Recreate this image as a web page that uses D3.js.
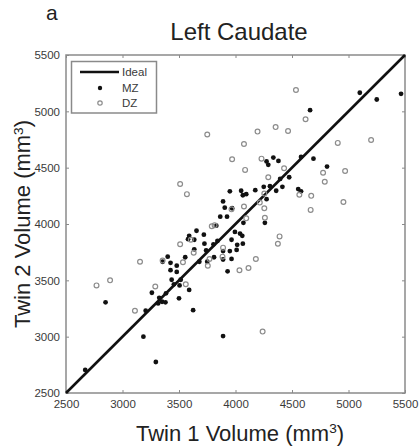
<!DOCTYPE html>
<html>
<head>
<meta charset="utf-8">
<script src="https://cdn.jsdelivr.net/npm/d3@7"></script>
<style>
  html, body { margin: 0; padding: 0; background: #fff; }
  svg { display: block; font-family: "Liberation Sans", Arial, Helvetica, sans-serif; }
</style>
</head>
<body>
<svg id="chart" width="419" height="448"></svg>
<script>
// Left caudate volumes (mm^3) for twin pairs
const mzTwin1 = [5100,5250,5465,4660,4275,4335,4380,4290,4580,4690,4810,4475,4395,4305,4250,4415,4360,4175,
  4050,4065,4095,3950,4555,4580,4275,3970,4070,4260,3995,4040,4060,3965,4015,4065,3965,
  3890,3905,3865,3925,3830,3655,3720,3590,3580,3635,3840,3725,3805,3635,3890,3950,4010,3740,3810,3890,3750,3680,3555,3400,3355,3425,3480,3425,3480,3930,
  3435,3515,3455,3505,3590,3260,3385,3325,3350,3380,3315,3500,2850,3205,3625,3185,3890,3295,2670];
const mzTwin2 = [5165,5105,5155,5010,4555,4590,4560,4525,4595,4580,4510,4415,4400,4335,4330,4330,4295,4300,
  4295,4255,4265,4290,4310,4290,4220,4140,4010,4010,3930,3915,3895,3860,3815,3825,3690,
  4200,4145,4065,4065,3985,3940,3905,3895,3865,3860,3850,3825,3820,3775,3760,3760,3770,3765,3705,3685,3665,3665,3705,3710,3665,3655,3630,3590,3575,3580,
  3505,3505,3465,3455,3415,3390,3385,3345,3310,3305,3295,3340,3305,3230,3235,3000,3005,2775,2705];

const dzTwin1 = [4535,4620,4195,4355,4465,4075,4905,5200,3970,4230,4085,4430,4775,4970,4790,4290,4565,4670,4955,4665,
  4255,4215,4255,4260,4075,4095,4390,4375,4180,4115,4035,4240,3750,3510,3570,3965,3790,3815,3605,3510,
  3630,3890,3885,3770,3755,3355,3155,3535,2890,2770,3290,3560,3110];
const dzTwin2 = [5190,4930,4820,4860,4825,4710,4720,4745,4575,4580,4480,4495,4455,4470,4375,4415,4260,4250,4195,4125,
  4270,4190,4140,4055,4155,4050,3890,3825,3690,3610,3590,3045,4795,4355,4265,4130,3980,3990,3860,3820,
  3745,3790,3710,3690,3630,3675,3665,3660,3500,3455,3445,3465,3230];

const ideal = [2500, 5500];
const axisTicks = [2500, 3000, 3500, 4000, 4500, 5000, 5500];
const seriesNames = ["Ideal", "MZ", "DZ"];

const svg = d3.select("#chart");
const plotLeft = 66, plotRight = 405, plotTop = 55, plotBottom = 393;

const x = d3.scaleLinear().domain([2500, 5500]).range([plotLeft, plotRight]);
const y = d3.scaleLinear().domain([2500, 5500]).range([plotBottom, plotTop]);

const frameColor = "#8a8a8a";
const textColor = "#3a3a3a";
const fmt = d3.format("d");

// inward ticks on all four sides of the box
const tickLen = 3;
svg.append("g").attr("transform", `translate(0,${plotBottom})`)
  .call(d3.axisBottom(x).tickValues(axisTicks).tickFormat(fmt).tickSizeInner(-tickLen).tickSizeOuter(0).tickPadding(7))
  .call(g => g.select(".domain").remove());
svg.append("g").attr("transform", `translate(${plotLeft},0)`)
  .call(d3.axisLeft(y).tickValues(axisTicks).tickFormat(fmt).tickSizeInner(-tickLen).tickSizeOuter(0).tickPadding(6))
  .call(g => g.select(".domain").remove());
svg.append("g").attr("transform", `translate(0,${plotTop})`)
  .call(d3.axisTop(x).tickValues(axisTicks).tickSizeInner(-tickLen).tickSizeOuter(0).tickFormat(""))
  .call(g => g.select(".domain").remove());
svg.append("g").attr("transform", `translate(${plotRight},0)`)
  .call(d3.axisRight(y).tickValues(axisTicks).tickSizeInner(-tickLen).tickSizeOuter(0).tickFormat(""))
  .call(g => g.select(".domain").remove());

svg.selectAll(".tick line").attr("stroke", frameColor).attr("stroke-width", 1);
svg.selectAll(".tick text")
  .attr("font-family", "Liberation Sans, Arial, sans-serif")
  .attr("font-size", 11.5)
  .attr("fill", textColor);

// box frame
svg.append("rect")
  .attr("x", plotLeft).attr("y", plotTop)
  .attr("width", plotRight - plotLeft).attr("height", plotBottom - plotTop)
  .attr("fill", "none").attr("stroke", frameColor).attr("stroke-width", 1.5);

// identity line
svg.append("line")
  .attr("x1", x(ideal[0])).attr("y1", y(ideal[0]))
  .attr("x2", x(ideal[1])).attr("y2", y(ideal[1]))
  .attr("stroke", "#111").attr("stroke-width", 2.6);

// MZ pairs: filled black dots
svg.append("g").selectAll("circle")
  .data(d3.zip(mzTwin1, mzTwin2))
  .join("circle")
  .attr("cx", d => x(d[0])).attr("cy", d => y(d[1]))
  .attr("r", 2.4).attr("fill", "#111");

// DZ pairs: open gray circles
svg.append("g").selectAll("circle")
  .data(d3.zip(dzTwin1, dzTwin2))
  .join("circle")
  .attr("cx", d => x(d[0])).attr("cy", d => y(d[1]))
  .attr("r", 2.4).attr("fill", "none")
  .attr("stroke", "#8c8c8c").attr("stroke-width", 1.2);

// legend
const lg = svg.append("g");
lg.append("rect").attr("x", 71.5).attr("y", 61.5).attr("width", 85).attr("height", 51.5)
  .attr("fill", "#fff").attr("stroke", frameColor).attr("stroke-width", 1.5);
const rowY = [72, 88, 103];
lg.append("line").attr("x1", 80).attr("x2", 119).attr("y1", rowY[0]).attr("y2", rowY[0])
  .attr("stroke", "#111").attr("stroke-width", 2.6);
lg.append("circle").attr("cx", 100).attr("cy", rowY[1]).attr("r", 2.2).attr("fill", "#111");
lg.append("circle").attr("cx", 100).attr("cy", rowY[2]).attr("r", 2.2).attr("fill", "none")
  .attr("stroke", "#8c8c8c").attr("stroke-width", 1.2);
lg.selectAll("text").data(seriesNames).join("text")
  .attr("x", 122).attr("y", (d, i) => rowY[i])
  .attr("dy", "0.35em")
  .attr("font-size", 11.5).attr("fill", textColor)
  .text(d => d);

// panel letter and title
svg.append("text").attr("x", 46).attr("y", 20)
  .attr("font-size", 21).attr("fill", "#222").text("a");
svg.append("text").attr("x", 239).attr("y", 40)
  .attr("text-anchor", "middle").attr("font-size", 24).attr("fill", "#222")
  .text("Left Caudate");

// axis titles with superscript unit
function unitLabel(sel, base) {
  sel.append("tspan").text(base + " (mm");
  sel.append("tspan").attr("font-size", "0.62em").attr("dy", "-0.55em").text("3");
  sel.append("tspan").attr("dy", "0.34em").text(")");
}
const xt = svg.append("text").attr("x", 240).attr("y", 441)
  .attr("text-anchor", "middle").attr("font-size", 22).attr("fill", "#222");
unitLabel(xt, "Twin 1 Volume");

const yt = svg.append("text")
  .attr("transform", `translate(30,${(plotTop + plotBottom) / 2}) rotate(-90)`)
  .attr("text-anchor", "middle").attr("font-size", 22).attr("fill", "#222");
unitLabel(yt, "Twin 2 Volume");
</script>
</body>
</html>
